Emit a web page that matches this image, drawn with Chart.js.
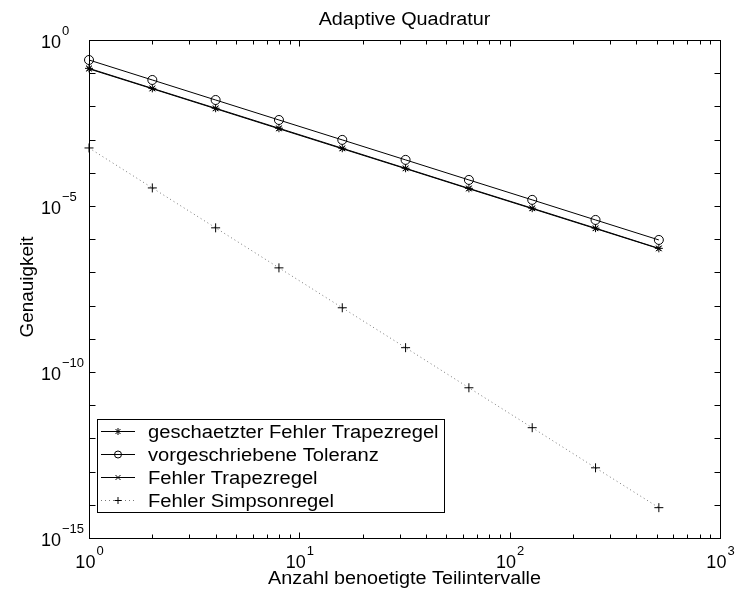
<!DOCTYPE html>
<html>
<head>
<meta charset="utf-8">
<title>Adaptive Quadratur</title>
<script src="https://cdn.jsdelivr.net/npm/chart.js@4.4.1/dist/chart.umd.min.js"></script>
<style>
  html, body { margin: 0; padding: 0; background: #fff; }
  canvas { display: block; }
</style>
</head>
<body>
<canvas id="quadChart" width="736" height="592"></canvas>
<script>
// number of subintervals
var intervals = [1, 2, 4, 8, 16, 32, 64, 128, 256, 512];

var seriesNames = [
  "geschaetzter Fehler Trapezregel",
  "vorgeschriebene Toleranz",
  "Fehler Trapezregel",
  "Fehler Simpsonregel"
];

// values
var estError = [0.14, 0.035, 8.8e-3, 2.2e-3, 5.5e-4, 1.37e-4, 3.4e-5, 8.6e-6, 2.15e-6, 5.3e-7];
var tolerance = [0.25, 0.0625, 0.0156, 3.9e-3, 9.8e-4, 2.45e-4, 6.1e-5, 1.53e-5, 3.8e-6, 9.5e-7];
var trapError = [0.135, 0.034, 8.5e-3, 2.12e-3, 5.3e-4, 1.33e-4, 3.3e-5, 8.3e-6, 2.08e-6, 5.2e-7];
var simpError = [5.6e-4, 3.5e-5, 2.2e-6, 1.37e-7, 8.6e-9, 5.4e-10, 3.35e-11, 2.1e-12, 1.3e-13, 8.2e-15];

// axis ticks
var xTicks = [1, 10, 100, 1000];
var xTickExp = ["0", "1", "2", "3"];
var yTicks = [1, 1e-5, 1e-10, 1e-15];
var yTickExp = ["0", "\u22125", "\u221210", "\u221215"];

var FONT = '"Liberation Sans", Arial, Helvetica, sans-serif';

function points(ys) {
  return intervals.map(function(x, i) {
    return { x: x, y: ys[i] };
  });
}

function stretchText(ctx, str, x, y, size, align, sx, rot) {
  ctx.save();
  ctx.translate(x, y);
  if (rot) ctx.rotate(rot);
  ctx.scale(sx, 1);
  ctx.font = size + "px " + FONT;
  ctx.textAlign = align;
  ctx.textBaseline = "alphabetic";
  ctx.fillStyle = "#000";
  ctx.fillText(str, 0, 0);
  ctx.restore();
}

function marker(ctx, style, x, y, r) {
  ctx.beginPath();
  if (style === "circle") {
    ctx.arc(x, y, r, 0, Math.PI * 2);
  }
  if (style === "cross" || style === "star") {
    ctx.moveTo(x - r, y); ctx.lineTo(x + r, y);
    ctx.moveTo(x, y - r); ctx.lineTo(x, y + r);
  }
  if (style === "crossRot" || style === "star") {
    var d = r * 0.7071;
    ctx.moveTo(x - d, y - d); ctx.lineTo(x + d, y + d);
    ctx.moveTo(x - d, y + d); ctx.lineTo(x + d, y - d);
  }
  ctx.stroke();
}

var axesPlugin = {
  id: "matlabAxes",
  afterDraw: function(chart) {
    var ctx = chart.ctx;
    var a = chart.chartArea;
    var xs = chart.scales.x;
    var ys = chart.scales.y;
    var L = Math.round(a.left) + 0.5, R = Math.round(a.right) + 0.5;
    var T = Math.round(a.top) + 0.5, B = Math.round(a.bottom) + 0.5;

    ctx.save();
    ctx.strokeStyle = "#000";
    ctx.lineWidth = 1;
    ctx.strokeRect(L, T, R - L, B - T);

    // x ticks (major + minor), bottom and top
    ctx.beginPath();
    for (var dec = 1; dec <= 1000; dec *= 10) {
      for (var m = 1; m <= 9; m++) {
        var v = dec * m;
        if (v > 1000) break;
        var px = Math.round(xs.getPixelForValue(v)) + 0.5;
        var len = m === 1 ? 6 : 4;
        ctx.moveTo(px, B); ctx.lineTo(px, B - len);
        ctx.moveTo(px, T); ctx.lineTo(px, T + len);
      }
    }
    // y ticks at every decade, left and right
    for (var e = 0; e >= -15; e--) {
      var py = Math.round(ys.getPixelForValue(Math.pow(10, e))) + 0.5;
      ctx.moveTo(L, py); ctx.lineTo(L + 6, py);
      ctx.moveTo(R, py); ctx.lineTo(R - 6, py);
    }
    ctx.stroke();

    // tick labels
    ctx.fillStyle = "#000";
    xTicks.forEach(function(v, i) {
      var px = xs.getPixelForValue(v);
      ctx.font = "18px " + FONT;
      var w1 = ctx.measureText("10").width;
      ctx.font = "13px " + FONT;
      var w2 = ctx.measureText(xTickExp[i]).width;
      var x0 = px - (w1 + w2) / 2;
      ctx.textAlign = "left";
      ctx.font = "18px " + FONT;
      ctx.fillText("10", x0, B + 29);
      ctx.font = "13px " + FONT;
      ctx.fillText(xTickExp[i], x0 + w1 + 1, B + 16);
    });
    yTicks.forEach(function(v, i) {
      var py = ys.getPixelForValue(v);
      ctx.textAlign = "left";
      ctx.font = "18px " + FONT;
      ctx.fillText("10", 41, py + 8);
      var w1 = ctx.measureText("10").width;
      ctx.font = "13px " + FONT;
      ctx.fillText(yTickExp[i], 41 + w1 + 1, py - 5);
    });

    // title and axis labels
    var cx = (a.left + a.right) / 2;
    stretchText(ctx, "Adaptive Quadratur", cx, 25, 18, "center", 1.1);
    stretchText(ctx, "Anzahl benoetigte Teilintervalle", cx, 584, 18, "center", 1.1);
    stretchText(ctx, "Genauigkeit", 33, (a.top + a.bottom) / 2 - 2, 18, "center", 1.05, -Math.PI / 2);

    // legend box inside the plot
    var bx = 97.5, by = 419.5, bw = 347, bh = 93;
    ctx.fillStyle = "#fff";
    ctx.fillRect(bx, by, bw, bh);
    ctx.strokeStyle = "#000";
    ctx.lineWidth = 1;
    ctx.strokeRect(bx, by, bw, bh);
    chart.data.datasets.forEach(function(ds, i) {
      var ry = 431.5 + i * 23;
      ctx.save();
      ctx.strokeStyle = ds.borderColor;
      ctx.lineWidth = ds.borderWidth;
      ctx.setLineDash(ds.borderDash || []);
      ctx.beginPath();
      ctx.moveTo(101, ry); ctx.lineTo(135, ry);
      ctx.stroke();
      ctx.setLineDash([]);
      ctx.strokeStyle = "#000";
      ctx.lineWidth = 1;
      marker(ctx, ds.pointStyle, 118, ry, 3.5);
      ctx.restore();
      stretchText(ctx, ds.label, 148, ry + 6.5, 18, "left", 1.12);
    });
    ctx.restore();
  }
};

window.onload = function() {
  var quadChart = document.getElementById("quadChart").getContext("2d");

  var data = {
    type: "line",
    data: {
      datasets: [
        {
          label: seriesNames[0],
          data: points(estError),
          borderColor: "#000",
          borderWidth: 1,
          pointStyle: "star",
          pointRadius: 4,
          pointBorderColor: "#000",
          pointBackgroundColor: "rgba(0,0,0,0)",
          pointBorderWidth: 1,
          clip: false
        },
        {
          label: seriesNames[1],
          data: points(tolerance),
          borderColor: "#000",
          borderWidth: 1,
          pointStyle: "circle",
          pointRadius: 4.5,
          pointBorderColor: "#000",
          pointBackgroundColor: "rgba(0,0,0,0)",
          pointBorderWidth: 1,
          clip: false
        },
        {
          label: seriesNames[2],
          data: points(trapError),
          borderColor: "#000",
          borderWidth: 1,
          pointStyle: "crossRot",
          pointRadius: 3.5,
          pointBorderColor: "#000",
          pointBorderWidth: 1,
          clip: false
        },
        {
          label: seriesNames[3],
          data: points(simpError),
          borderColor: "#777",
          borderWidth: 1,
          borderDash: [1, 3],
          pointStyle: "cross",
          pointRadius: 4.5,
          pointBorderColor: "#000",
          pointBorderWidth: 1,
          clip: false
        }
      ]
    },
    options: {
      responsive: false,
      animation: false,
      layout: {
        padding: { left: 89, right: 16, top: 40, bottom: 54 }
      },
      elements: {
        line: { tension: 0, fill: false }
      },
      scales: {
        x: { type: "logarithmic", display: false, min: 1, max: 1000 },
        y: { type: "logarithmic", display: false, min: 1e-15, max: 1 }
      },
      plugins: {
        legend: { display: false },
        title: { display: false },
        tooltip: { enabled: false }
      }
    },
    plugins: [axesPlugin]
  };

  window.myChart = new Chart(quadChart, data);
};
</script>
</body>
</html>
